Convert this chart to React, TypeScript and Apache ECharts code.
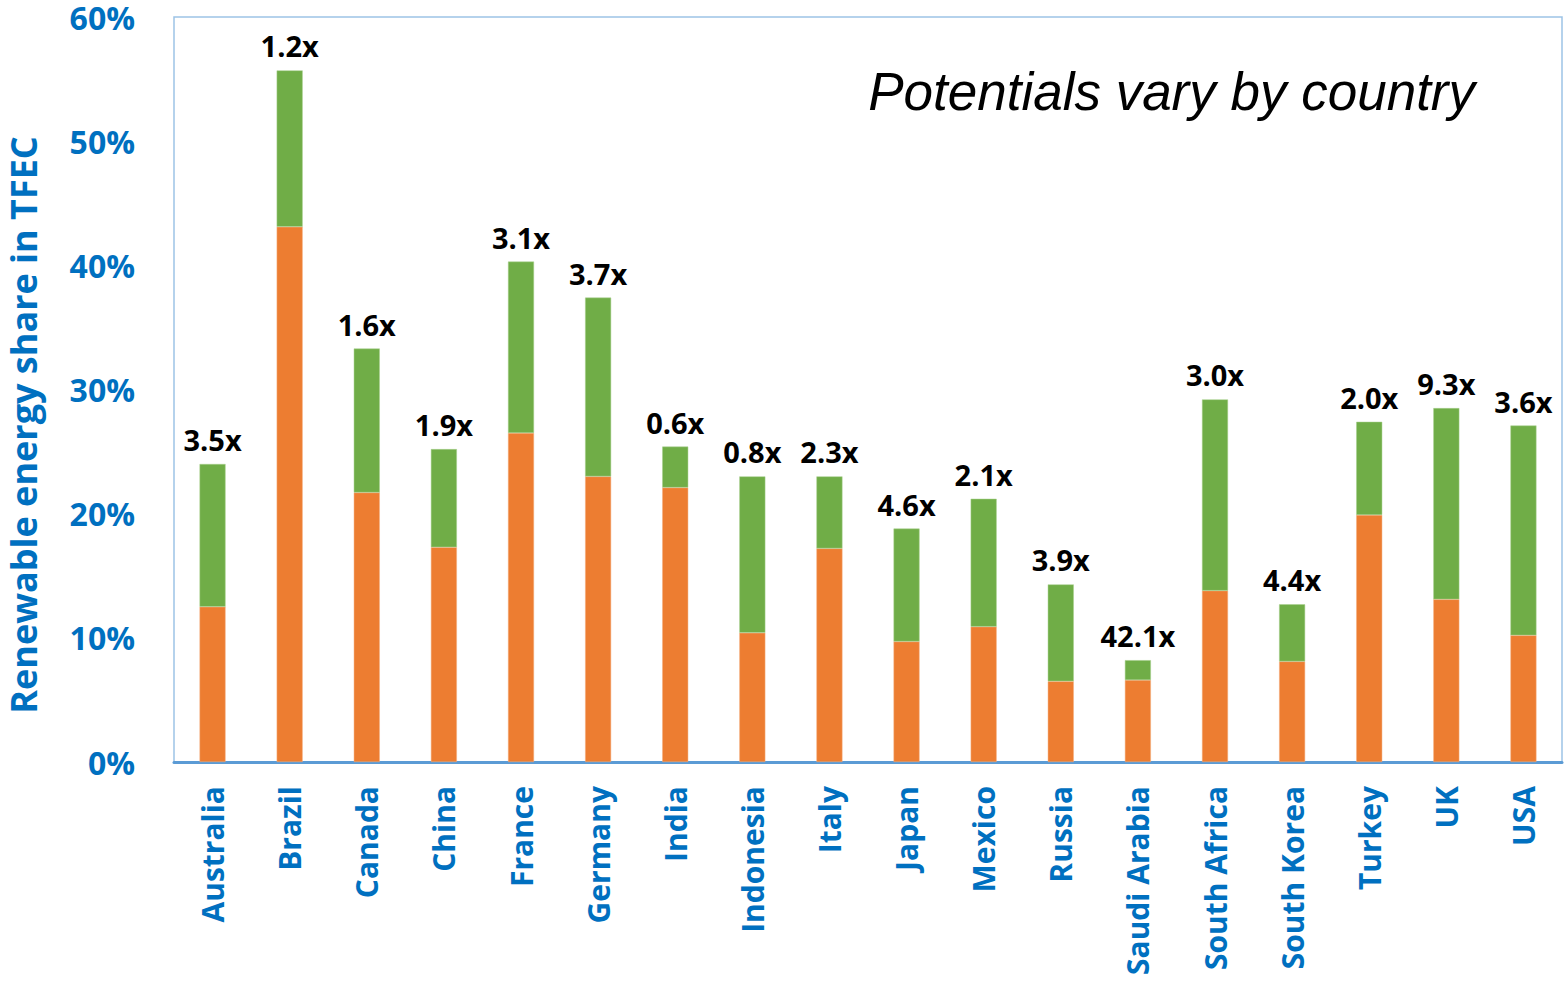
import React, { useEffect, useRef } from "react";
import * as echarts from "echarts";

const countries = ["Australia", "Brazil", "Canada", "China", "France", "Germany", "India", "Indonesia", "Italy", "Japan", "Mexico", "Russia", "Saudi Arabia", "South Africa", "South Korea", "Turkey", "UK", "USA"];
const currentShare = [12.5, 43.1, 21.7, 17.3, 26.5, 23.0, 22.1, 10.4, 17.2, 9.7, 10.9, 6.5, 6.6, 13.8, 8.1, 19.9, 13.1, 10.2];
const potentialShare = [24.0, 55.7, 33.3, 25.2, 40.3, 37.4, 25.4, 23.0, 23.0, 18.8, 21.2, 14.3, 8.2, 29.2, 12.7, 27.4, 28.5, 27.1];
const multipliers = ["3.5x", "1.2x", "1.6x", "1.9x", "3.1x", "3.7x", "0.6x", "0.8x", "2.3x", "4.6x", "2.1x", "3.9x", "42.1x", "3.0x", "4.4x", "2.0x", "9.3x", "3.6x"];
const yAxisTitle = "Renewable energy share in TFEC";

const BLUE = "#0070C0";
const FONT = "'Open Sans', 'Noto Sans', sans-serif";

export default function App() {
  const ref = useRef<HTMLDivElement>(null);
  useEffect(() => {
    const chart = echarts.init(ref.current!, null, { renderer: "svg" });
    const additional = potentialShare.map((p, i) => +(p - currentShare[i]).toFixed(2));
    chart.setOption({
      animation: false,
      grid: {
        left: 174, right: 2, top: 17, bottom: 221,
        outerBoundsMode: "none",
        containLabel: false,
        show: true, borderColor: "#9DC3E6", borderWidth: 1.5,
      },
      title: {
        text: "Potentials vary by country",
        right: 84, top: 60,
        textStyle: { fontFamily: "'Liberation Sans', Arial, sans-serif", fontStyle: "italic", fontWeight: "normal", fontSize: 53, color: "#000" },
      },
      graphic: [
        {
          type: "text",
          x: 23, y: 425,
          rotation: Math.PI / 2,
          style: {
            text: yAxisTitle,
            fill: BLUE,
            font: `bold 36px ${FONT}`,
            align: "center",
            verticalAlign: "middle",
          },
        },
      ],
      xAxis: {
        type: "category",
        data: countries,
        axisLine: { show: true, lineStyle: { color: "#5B9BD5", width: 3 } },
        axisTick: { show: false },
        axisLabel: { rotate: 90, color: BLUE, fontWeight: "bold", fontSize: 30, fontFamily: FONT, margin: 24, interval: 0 },
      },
      yAxis: {
        type: "value",
        min: 0, max: 60, interval: 10,
        axisLine: { show: false },
        axisTick: { show: false },
        splitLine: { show: false },
        axisLabel: { formatter: "{value}%", color: BLUE, fontWeight: "bold", fontSize: 32, lineHeight: 30, fontFamily: FONT, margin: 39 },
      },
      series: [
        {
          type: "bar", stack: "s", data: currentShare, barWidth: 26,
          itemStyle: { color: "#ED7D31", borderColor: "#F4B183", borderWidth: 0.5 },
        },
        {
          type: "bar", stack: "s", data: additional, barWidth: 26,
          itemStyle: { color: "#70AD47", borderColor: "#A9D18E", borderWidth: 0.5 },
          label: {
            show: true, position: "top", distance: 10,
            formatter: (p: any) => multipliers[p.dataIndex],
            color: "#000", fontWeight: "bold", fontSize: 29, fontFamily: FONT,
          },
        },
      ],
    });
    return () => chart.dispose();
  }, []);
  return <div ref={ref} style={{ width: 1564, height: 983, position: "absolute", left: 0, top: 0 }} />;
}
